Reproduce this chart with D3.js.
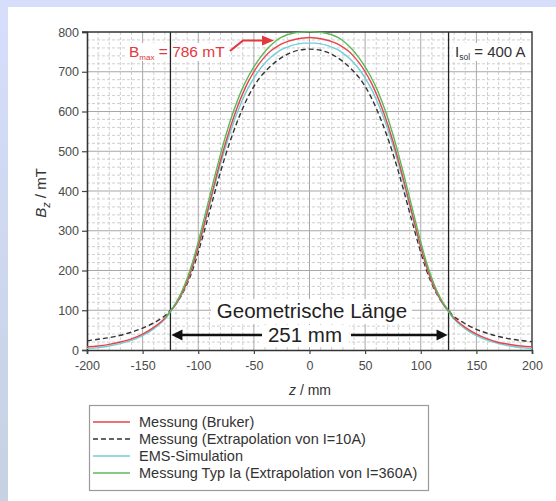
<!DOCTYPE html>
<html>
<head>
<meta charset="utf-8">
<script src="https://cdn.jsdelivr.net/npm/d3@7"></script>
<style>
  body { margin: 0; background: #fff; }
  svg { display: block; font-family: "Liberation Sans", Arial, sans-serif; }
</style>
</head>
<body>
<script>
// z positions in mm (shared by red, black dashed and cyan)
var zGrid = [-200,-190,-180,-170,-160,-150,-140,-130,-125,-120,-115,-110,-105,-100,
  -95,-90,-85,-80,-75,-70,-65,-60,-55,-50,-45,-40,-35,-30,-25,-20,-15,-10,-5,0,
  5,10,15,20,25,30,35,40,45,50,55,60,65,70,75,80,85,90,95,100,
  105,110,115,120,125,130,140,150,160,170,180,190,200];

// Messung (Bruker)
var brukerVals = [8,10,14,20,28,40,57,80,98,116,141,172,212,260,
  313,368,423,476,525,570,610,645,675,700,721,738,752,762,770,776,780,783,785,786,
  785,783,780,776,770,762,752,738,721,700,675,645,610,570,525,476,423,368,313,260,
  212,172,141,116,98,80,57,40,28,19,14,10,8];

// Messung (Extrapolation von I=10A)
var extra10Vals = [23,27,31,37,45,55,68,86,100,116,138,166,202,246,
  295,346,398,448,494,536,574,608,638,663,684,700,714,726,736,744,750,754,756,757,
  756,754,750,744,736,726,714,700,684,663,638,608,574,536,494,448,398,346,295,246,
  202,166,138,116,100,84,66,52,42,34,28,24,21];

// EMS-Simulation
var emsVals = [4,6,10,16,24,36,53,77,96,115,140,171,211,258,
  309,363,416,468,515,558,597,631,660,684,705,722,736,747,756,762,767,770,772,772,
  772,770,767,762,756,747,736,722,705,684,660,631,597,558,515,468,416,363,309,258,
  211,171,140,115,96,77,53,36,24,16,10,6,3];

// Messung Typ Ia (Extrapolation von I=360A)
var zTypIa = [-130,-125,-120,-115,-110,-105,-100,-95,-90,-85,-80,-75,-70,-65,-60,-55,
  -50,-45,-40,-35,-30,-25,-20,-15,-10,-5,0,5,10,15,20,25,30,35,40,45,50,
  55,60,65,70,75,80,85,90,95,100,105,110,115,120,125,130];
var typIaVals = [80,98,119,146,180,222,272,327,383,439,492,542,587,626,660,688,
  712,733,751,766,778,787,793,797,799,800,801,800,799,797,793,787,778,766,751,733,712,
  688,660,626,587,542,492,439,383,327,272,222,180,146,119,98,80];

var xTicks = [-200,-150,-100,-50,0,50,100,150,200];
var yTicks = [0,100,200,300,400,500,600,700,800];
var coilEdges = [-125,125];

var legendNames = ["Messung (Bruker)", "Messung (Extrapolation von I=10A)",
  "EMS-Simulation", "Messung Typ Ia (Extrapolation von I=360A)"];

var svgWidth = 556, svgHeight = 501;

var svg = d3.select("body").append("svg")
  .attr("width", svgWidth)
  .attr("height", svgHeight);

// page background (blue strips left and top)
var defs = svg.append("defs");
var grad = defs.append("linearGradient").attr("id", "side")
  .attr("x1", 0).attr("y1", 0).attr("x2", 0).attr("y2", 1);
grad.append("stop").attr("offset", "0%").attr("stop-color", "#d6defc");
grad.append("stop").attr("offset", "100%").attr("stop-color", "#c6d1e2");
svg.append("rect").attr("width", svgWidth).attr("height", 7).attr("fill", "#d6defc");
svg.append("rect").attr("width", 8).attr("height", svgHeight).attr("fill", "url(#side)");

var x = d3.scaleLinear().domain([-200, 200]).range([87, 532]);
var y = d3.scaleLinear().domain([0, 800]).range([350, 32]);

// grid
var grid = svg.append("g");
grid.selectAll("line.minx")
  .data(d3.range(-190, 200, 10).filter(d => d % 50 != 0))
  .enter().append("line")
  .attr("x1", d => x(d)).attr("x2", d => x(d))
  .attr("y1", y(800)).attr("y2", y(0))
  .attr("stroke", "#cfcfcf").attr("stroke-dasharray", "3,2");
grid.selectAll("line.miny")
  .data(d3.range(20, 800, 20).filter(d => d % 100 != 0))
  .enter().append("line")
  .attr("x1", x(-200)).attr("x2", x(200))
  .attr("y1", d => y(d)).attr("y2", d => y(d))
  .attr("stroke", "#cfcfcf").attr("stroke-dasharray", "3,2");
grid.selectAll("line.majx")
  .data(xTicks.slice(1, -1))
  .enter().append("line")
  .attr("x1", d => x(d)).attr("x2", d => x(d))
  .attr("y1", y(800)).attr("y2", y(0))
  .attr("stroke", "#a8a8a8");
grid.selectAll("line.majy")
  .data(yTicks.slice(1, -1))
  .enter().append("line")
  .attr("x1", x(-200)).attr("x2", x(200))
  .attr("y1", d => y(d)).attr("y2", d => y(d))
  .attr("stroke", "#a8a8a8");

// white boxes behind the text labels
svg.append("rect").attr("x", 127).attr("y", 43).attr("width", 102).attr("height", 18).attr("fill", "#fff");
svg.append("rect").attr("x", 453).attr("y", 43).attr("width", 78).attr("height", 18).attr("fill", "#fff");
svg.append("rect").attr("x", 211).attr("y", 299).attr("width", 201).attr("height", 25).attr("fill", "#fff");
svg.append("rect").attr("x", 259).attr("y", 325).attr("width", 90).attr("height", 22).attr("fill", "#fff");

// coil edges
svg.selectAll("line.edge")
  .data(coilEdges)
  .enter().append("line")
  .attr("x1", d => x(d)).attr("x2", d => x(d))
  .attr("y1", y(800)).attr("y2", y(0))
  .attr("stroke", "#222").attr("stroke-width", 1.3);

// axes
var leftAxis = d3.axisLeft(y).tickValues(yTicks).tickSize(5).tickPadding(3)
  .tickFormat(d => String(d));
var bottomAxis = d3.axisBottom(x).tickValues(xTicks).tickSize(4).tickPadding(7)
  .tickFormat(d => String(d));

var gl = svg.append("g").attr("transform", `translate(${x(-200)},0)`).call(leftAxis);
var gb = svg.append("g").attr("transform", `translate(0,${y(0)})`).call(bottomAxis);
[gl, gb].forEach(function(g) {
  g.select(".domain").attr("stroke", "#333").attr("stroke-width", 1.6);
  g.selectAll(".tick line").attr("stroke", "#444").attr("stroke-width", 1.2);
  g.selectAll(".tick text").attr("fill", "#4a4a4a").style("font-size", "12.5px")
    .style("font-family", "'Liberation Sans', Arial, sans-serif");
});

// top and right frame
svg.append("path")
  .attr("d", `M${x(-200) - 5},${y(800)}H${x(200)}V${y(0)}`)
  .attr("fill", "none").attr("stroke", "#333").attr("stroke-width", 1.4);

// curves
var line = d3.line().curve(d3.curveCatmullRom)
  .x(d => x(d[0])).y(d => y(d[1]));

var series = [
  { pts: d3.zip(zGrid, extra10Vals), color: "#333", dash: "5,3" },
  { pts: d3.zip(zGrid, emsVals), color: "#6fcfd8", dash: null },
  { pts: d3.zip(zGrid, brukerVals), color: "#e5454a", dash: null },
  { pts: d3.zip(zTypIa, typIaVals), color: "#5cb85c", dash: null }
];
series.forEach(function(s) {
  svg.append("path")
    .attr("d", line(s.pts))
    .attr("fill", "none")
    .attr("stroke", s.color)
    .attr("stroke-width", 1.4)
    .attr("stroke-dasharray", s.dash);
});

// Bmax annotation
var bmax = svg.append("text").attr("x", 129).attr("y", 57)
  .attr("fill", "#e0393e").style("font-size", "15.5px");
bmax.append("tspan").text("B");
bmax.append("tspan").attr("dy", 3).style("font-size", "8px").text("max");
bmax.append("tspan").attr("dy", -3).text(" = 786 mT");

svg.append("path")
  .attr("d", "M230,51 L243,40.5 L264,40.5")
  .attr("fill", "none").attr("stroke", "#e0393e").attr("stroke-width", 2.2);
svg.append("path")
  .attr("d", "M262,35.5 L274,40.5 L262,45.5 Z")
  .attr("fill", "#e0393e");

// I_sol label
var isol = svg.append("text").attr("x", 455).attr("y", 57)
  .attr("fill", "#333").style("font-size", "15px");
isol.append("tspan").text("I");
isol.append("tspan").attr("dy", 3).style("font-size", "8.5px").text("sol");
isol.append("tspan").attr("dy", -3).text(" = 400 A");

// geometric length
svg.append("text").attr("x", 312).attr("y", 318)
  .attr("text-anchor", "middle").attr("fill", "#222")
  .style("font-size", "20.5px").text("Geometrische Länge");
svg.append("text").attr("x", 305).attr("y", 342)
  .attr("text-anchor", "middle").attr("fill", "#222")
  .style("font-size", "20.5px").text("251 mm");

var ay = 335;
svg.append("line").attr("x1", x(-125) + 8).attr("x2", 262)
  .attr("y1", ay).attr("y2", ay).attr("stroke", "#111").attr("stroke-width", 2.4);
svg.append("line").attr("x1", 351).attr("x2", x(125) - 8)
  .attr("y1", ay).attr("y2", ay).attr("stroke", "#111").attr("stroke-width", 2.4);
svg.append("path")
  .attr("d", `M${x(-125) + 1},${ay} L${x(-125) + 12},${ay - 5.5} L${x(-125) + 12},${ay + 5.5} Z`)
  .attr("fill", "#111");
svg.append("path")
  .attr("d", `M${x(125) - 1},${ay} L${x(125) - 12},${ay - 5.5} L${x(125) - 12},${ay + 5.5} Z`)
  .attr("fill", "#111");

// axis labels
var yl = svg.append("text")
  .attr("transform", "translate(46,193) rotate(-90)")
  .attr("text-anchor", "middle").attr("fill", "#333").style("font-size", "15px");
yl.append("tspan").style("font-style", "italic").text("B");
yl.append("tspan").style("font-style", "italic").style("font-size", "11px").attr("dy", 4).text("z");
yl.append("tspan").attr("dy", -4).text(" / mT");

var xl = svg.append("text").attr("x", 310).attr("y", 395)
  .attr("text-anchor", "middle").attr("fill", "#333").style("font-size", "14px");
xl.append("tspan").style("font-style", "italic").text("z");
xl.append("tspan").text(" / mm");

// legend
var legend = svg.append("g");
legend.append("rect").attr("x", 89.5).attr("y", 405.5).attr("width", 339).attr("height", 85)
  .attr("fill", "#fff").attr("stroke", "#9a9a9a").attr("stroke-width", 1.2);
var legendColors = ["#e5454a", "#333", "#6fcfd8", "#5cb85c"];
var legendDash = [null, "5,3", null, null];
legendNames.forEach(function(name, i) {
  var ly = 422 + i * 17;
  legend.append("line").attr("x1", 93).attr("x2", 130).attr("y1", ly).attr("y2", ly)
    .attr("stroke", legendColors[i]).attr("stroke-width", 1.3)
    .attr("stroke-dasharray", legendDash[i]);
  legend.append("text").attr("x", 139).attr("y", ly + 5)
    .attr("fill", "#333").style("font-size", "14.5px").text(name);
});
</script>
</body>
</html>
